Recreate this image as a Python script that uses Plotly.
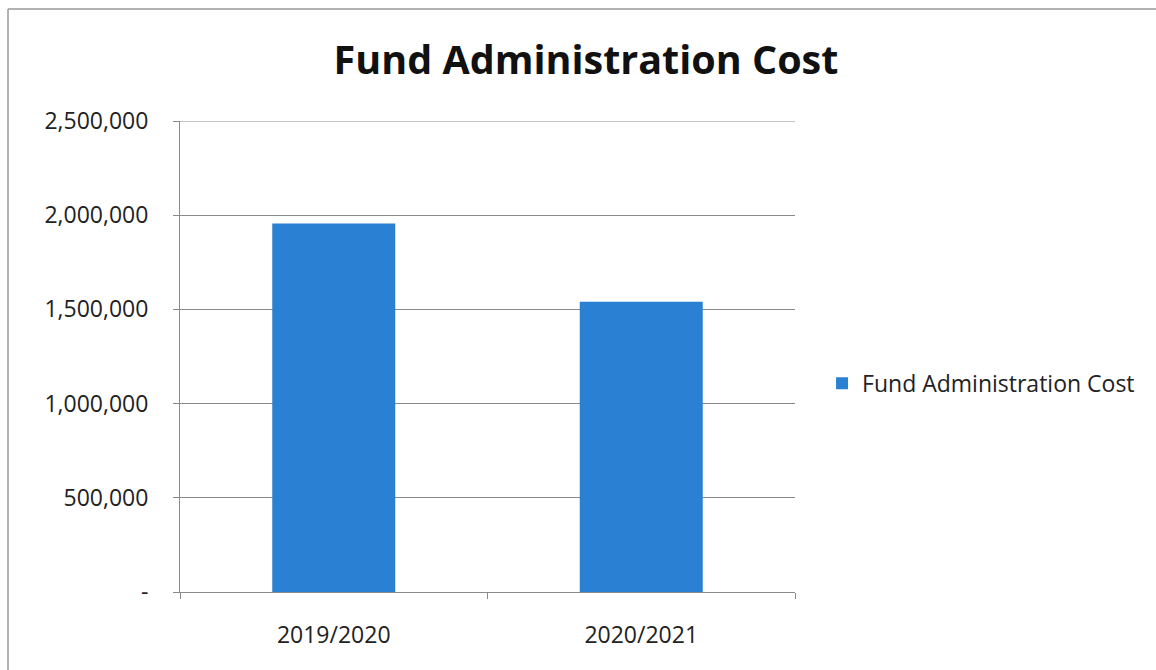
import plotly.graph_objects as go

# Fund administration cost per financial year
years = ["2019/2020", "2020/2021"]
costs = [1956000, 1541000]
series_name = "Fund Administration Cost"

y_tick_vals = [0, 500000, 1000000, 1500000, 2000000, 2500000]
y_tick_text = ["-", "500,000", "1,000,000", "1,500,000", "2,000,000", "2,500,000"]
y_max = 2500000

FONT = "Open Sans"
TEXT = "#222222"
GRID = "#8a8a8a"
BAR = "#2a80d2"

fig = go.Figure()
fig.add_trace(go.Bar(
    x=years,
    y=costs,
    name=series_name,
    marker=dict(color=BAR, line=dict(width=0)),
    width=0.4,
    showlegend=True,
))

fig.update_layout(
    width=1156,
    height=670,
    margin=dict(l=180, r=361, t=121, b=78),
    paper_bgcolor="white",
    plot_bgcolor="white",
    font=dict(family=FONT, color=TEXT, size=23),
    title=dict(
        text="<b>Fund Administration Cost</b>",
        x=586 / 1156, xanchor="center",
        y=1 - 60 / 670, yanchor="middle",
        font=dict(family=FONT, size=39.5, color="#111111"),
    ),
    showlegend=True,
    legend=dict(
        x=1.044, xanchor="left",
        y=0.443, yanchor="middle",
        font=dict(family=FONT, size=23, color=TEXT),
        itemsizing="constant",
        bgcolor="rgba(0,0,0,0)",
    ),
    bargap=0.6,
    xaxis=dict(
        type="category",
        showline=True, linecolor=GRID, linewidth=1,
        ticks="outside", ticklen=6, tickcolor=GRID,
        tickson="boundaries",
        showgrid=False,
        ticklabelstandoff=22,
        tickfont=dict(size=23, family=FONT, color=TEXT),
    ),
    yaxis=dict(
        range=[0, y_max],
        tickvals=y_tick_vals,
        ticktext=y_tick_text,
        showline=True, linecolor=GRID, linewidth=1,
        ticks="outside", ticklen=6, tickcolor=GRID,
        showgrid=True, gridcolor=GRID, gridwidth=1,
        zeroline=False,
        ticklabelstandoff=20,
        tickfont=dict(size=23, family=FONT, color=TEXT),
    ),
)

# Top gridline at the axis maximum
fig.add_shape(type="line", xref="paper", yref="y",
              x0=0, x1=1, y0=y_max, y1=y_max,
              line=dict(color=GRID, width=1), layer="below")

# Frame lines along the top and left edges of the chart
fig.add_shape(type="line", xref="paper", yref="paper",
              x0=-172 / 615, x1=976 / 615, y0=1 + 112 / 471, y1=1 + 112 / 471,
              line=dict(color="#9a9a9a", width=1.5))
fig.add_shape(type="line", xref="paper", yref="paper",
              x0=-172 / 615, x1=-172 / 615, y0=1 + 112 / 471, y1=-78 / 471,
              line=dict(color="#9a9a9a", width=1.5))

fig.write_html("out.html")
